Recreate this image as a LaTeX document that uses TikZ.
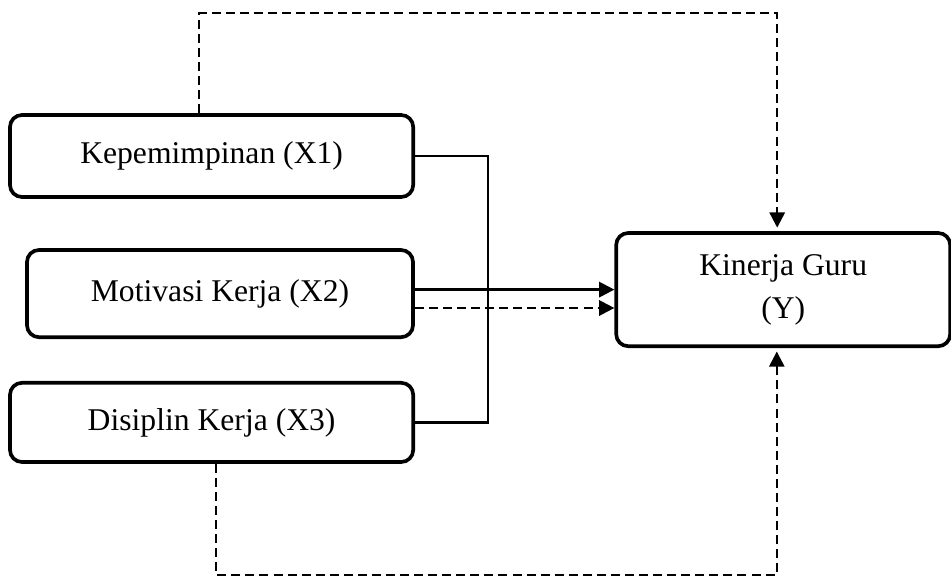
\documentclass[tikz,border=0pt]{standalone}
\usepackage{fontspec}
\setmainfont{Liberation Serif}
\usetikzlibrary{arrows.meta}
\begin{document}
\begin{tikzpicture}[>={Triangle[length=0.38cm,width=0.38cm]},
    main node/.style={rectangle,rounded corners=0.3cm,draw,line width=2.6pt,
      font=\fontsize{22.5}{30.5}\selectfont,align=center,inner sep=0pt},
    link/.style={line width=1.6pt},
    dash link/.style={line width=1.7pt,dash pattern=on 6.4pt off 3.6pt}]
    \useasboundingbox (0,0) rectangle (23.775,-14.4);
    \node[main node,minimum width=10.08cm,minimum height=2.05cm] (1) at (5.29,-3.9)  {Kepemimpinan (X1)};
    \node[main node,minimum width=9.65cm,minimum height=2.18cm]  (2) at (5.5,-7.34)  {Motivasi Kerja (X2)};
    \node[main node,minimum width=10.08cm,minimum height=1.98cm] (3) at (5.29,-10.56) {Disiplin Kerja (X3)};
    \node[main node,minimum width=8.35cm,minimum height=2.83cm]  (4) at (19.58,-7.24) {Kinerja Guru\\(Y)};
    \coordinate (top) at (0,-0.33);
    \coordinate (bottom) at (0,-14.375);
    % simultaneous
    \draw[link] (1.east) -- (12.2,-3.9 |- 1.east) -- (12.2,-3.9 |- 3.east) -- (3.east);
    \draw[link,->] (2.east |- 4.west) -- (4.west);
    \draw[dash link,->] ([yshift=-0.46cm]2.east |- 4.west) -- ([yshift=-0.46cm]4.west);
    % partial
    \draw[dash link,->,shorten >=2.5pt] ([xshift=-0.31cm]1.north) -- ([xshift=-0.31cm]1.north |- top)
      -| ([xshift=-0.15cm]4.north);
    \draw[dash link,->,shorten >=2.5pt] ([xshift=0.11cm]3.south) -- ([xshift=0.11cm]3.south |- bottom)
      -| ([xshift=-0.16cm]4.south);
\end{tikzpicture}
\end{document}
